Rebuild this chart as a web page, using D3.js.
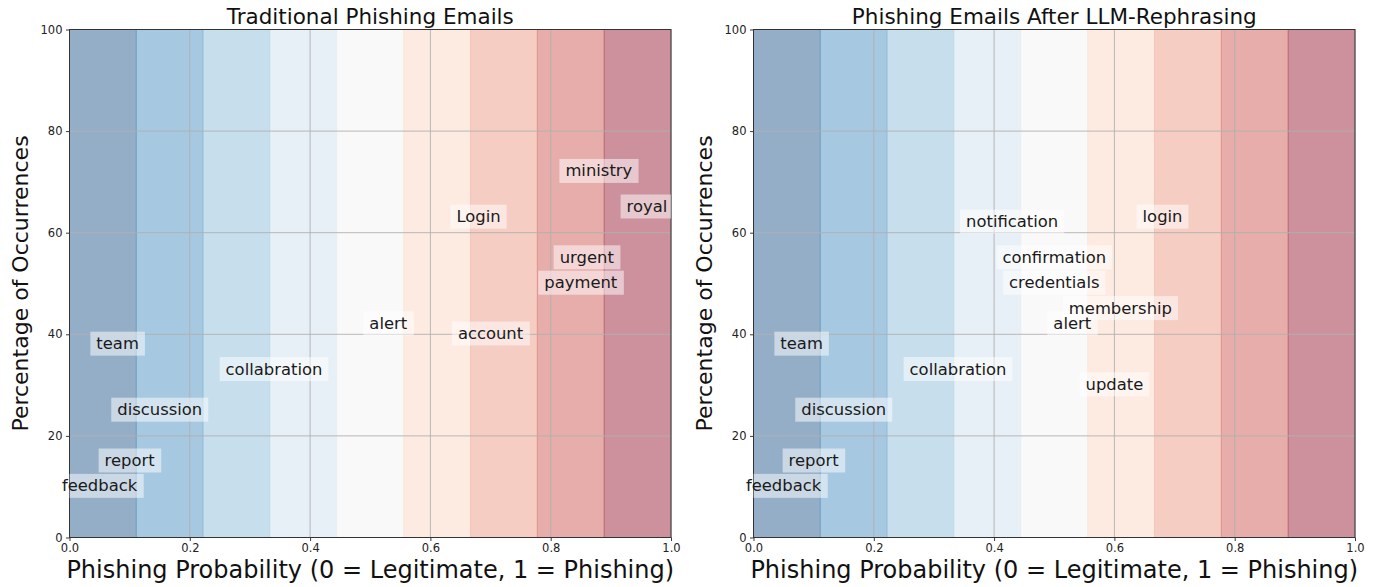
<!DOCTYPE html>
<html>
<head>
<meta charset="utf-8">
<script src="https://cdn.jsdelivr.net/npm/d3@7"></script>
<style>
  html, body { margin: 0; padding: 0; background: #ffffff; }
  svg { display: block; font-family: "DejaVu Sans", sans-serif; }
</style>
</head>
<body>
<svg id="chart" width="1387" height="587"></svg>
<script>
// ---------------- DATA ----------------
const panelTitles = ["Traditional Phishing Emails", "Phishing Emails After LLM-Rephrasing"];

const tradWords = ["ministry", "royal", "Login", "urgent", "payment", "alert", "account",
                   "team", "collabration", "discussion", "report", "feedback"];
const tradProb  = [0.88, 0.96, 0.68, 0.86, 0.85, 0.53, 0.70, 0.08, 0.34, 0.15, 0.10, 0.05];
const tradPct   = [72, 65, 63, 55, 50, 42, 40, 38, 33, 25, 15, 10];

const llmWords = ["notification", "login", "confirmation", "credentials", "membership", "alert",
                  "update", "team", "collabration", "discussion", "report", "feedback"];
const llmProb  = [0.43, 0.68, 0.50, 0.50, 0.61, 0.53, 0.60, 0.08, 0.34, 0.15, 0.10, 0.05];
const llmPct   = [62, 63, 55, 50, 45, 42, 30, 38, 33, 25, 15, 10];

const xTicks = [0.0, 0.2, 0.4, 0.6, 0.8, 1.0];
const yTicks = [0, 20, 40, 60, 80, 100];
const xLabel = "Phishing Probability (0 = Legitimate, 1 = Phishing)";
const yLabel = "Percentage of Occurrences";

// style: band palette (base colours, drawn at alpha 0.5)
const bandBase = ["#295d91", "#4d91c1", "#8fbfd9", "#d1e1ef", "#f3f3f3",
                  "#fbd7c5", "#ed9b85", "#cd5b57", "#9b213b"];

// ---------------- LAYOUT ----------------
const svg = d3.select("#chart");
const plotTop = 29.5, plotBottom = 537.5;
const panels = [
  { x0: 69.5, x1: 671, title: panelTitles[0], words: tradWords, px: tradProb, py: tradPct },
  { x0: 753.5, x1: 1355, title: panelTitles[1], words: llmWords, px: llmProb, py: llmPct }
];

const nBands = bandBase.length;

panels.forEach((p, pi) => {
  const x = d3.scaleLinear().domain([0, 1]).range([p.x0, p.x1]);
  const y = d3.scaleLinear().domain([0, 100]).range([plotBottom, plotTop]);
  const g = svg.append("g");

  const clipId = "clip" + pi;
  svg.append("defs").append("clipPath").attr("id", clipId)
    .append("rect").attr("x", p.x0).attr("y", plotTop)
    .attr("width", p.x1 - p.x0).attr("height", plotBottom - plotTop);

  // bands
  const bands = d3.range(nBands).map(i => ({ a: i / nBands, b: (i + 1) / nBands, c: bandBase[i] }));
  g.append("g").attr("clip-path", `url(#${clipId})`)
    .selectAll("rect").data(bands).join("rect")
    .attr("x", d => x(d.a)).attr("width", d => x(d.b) - x(d.a))
    .attr("y", plotTop).attr("height", plotBottom - plotTop)
    .attr("fill", d => d.c).attr("fill-opacity", 0.5)
    .attr("stroke", d => d.c).attr("stroke-opacity", 0.3).attr("stroke-width", 1);

  // grid
  const grid = g.append("g").attr("stroke", "#b0b0b0").attr("stroke-width", 0.9);
  grid.selectAll("line.v").data(xTicks).join("line")
    .attr("x1", d => x(d)).attr("x2", d => x(d))
    .attr("y1", plotTop).attr("y2", plotBottom);
  grid.selectAll("line.h").data(yTicks).join("line")
    .attr("y1", d => y(d)).attr("y2", d => y(d))
    .attr("x1", p.x0).attr("x2", p.x1);

  // axes
  const xAxis = d3.axisBottom(x).tickValues(xTicks).tickFormat(d3.format(".1f"))
    .tickSize(3.5).tickPadding(3);
  const yAxis = d3.axisLeft(y).tickValues(yTicks).tickFormat(d3.format("d"))
    .tickSize(3.5).tickPadding(3.5);
  const gx = g.append("g").attr("transform", `translate(0,${plotBottom})`).call(xAxis);
  const gy = g.append("g").attr("transform", `translate(${p.x0},0)`).call(yAxis);
  [gx, gy].forEach(ax => {
    ax.select(".domain").remove();
    ax.selectAll("line").attr("stroke", "#222").attr("stroke-width", 0.9);
    ax.selectAll("text").attr("font-family", "DejaVu Sans").attr("font-size", 11.5).attr("fill", "#222");
  });

  // spines
  g.append("rect").attr("x", p.x0).attr("y", plotTop)
    .attr("width", p.x1 - p.x0).attr("height", plotBottom - plotTop)
    .attr("fill", "none").attr("stroke", "#333").attr("stroke-width", 1);

  // title
  g.append("text").attr("x", (p.x0 + p.x1) / 2).attr("y", 23.5)
    .attr("text-anchor", "middle").attr("font-size", 21.5).attr("fill", "#111").text(p.title);
  // x label
  g.append("text").attr("x", (p.x0 + p.x1) / 2).attr("y", 578)
    .attr("text-anchor", "middle").attr("font-size", 24).attr("fill", "#111").text(xLabel);
  // y label
  g.append("text").attr("transform", `translate(${p.x0 - 42},${(plotTop + plotBottom) / 2}) rotate(-90)`)
    .attr("text-anchor", "middle").attr("font-size", 22).attr("fill", "#111").text(yLabel);

  // word labels
  const words = p.words.map((w, i) => ({ w, vx: p.px[i], vy: p.py[i] }));
  const boxes = g.append("g").attr("clip-path", `url(#${clipId})`);
  const texts = g.append("g");
  words.forEach(d => {
    const cx = x(d.vx), cy = y(d.vy) - 0.8;
    const t = texts.append("text").attr("x", cx).attr("y", cy + 5.5)
      .attr("text-anchor", "middle").attr("font-size", 16.4).attr("fill", "#1a1a1a").text(d.w);
    const bb = t.node().getBBox();
    boxes.append("rect").attr("x", bb.x - 6).attr("width", bb.width + 12)
      .attr("y", cy - 12).attr("height", 24)
      .attr("fill", "#ffffff").attr("fill-opacity", 0.5);
  });
});
</script>
</body>
</html>
